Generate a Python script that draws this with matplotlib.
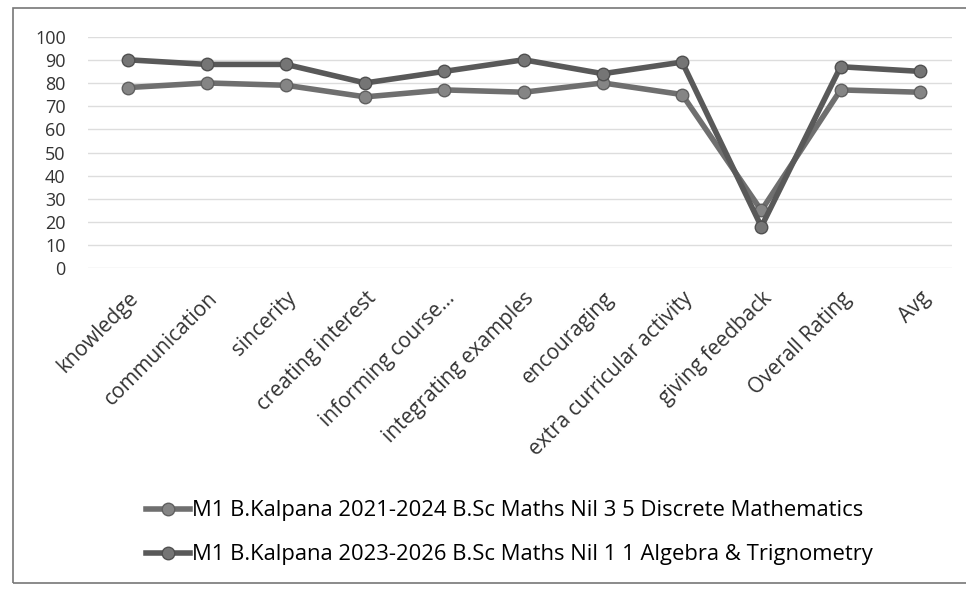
import matplotlib.pyplot as plt
from matplotlib.patches import Rectangle

categories = ["knowledge", "communication", "sincerity", "creating interest",
              "informing course...", "integrating examples", "encouraging",
              "extra curricular activity", "giving feedback", "Overall Rating", "Avg"]
discrete_math = [78, 80, 79, 74, 77, 76, 80, 75, 25, 77, 76]
algebra_trig = [90, 88, 88, 80, 85, 90, 84, 89, 18, 87, 85]
series_labels = ["M1 B.Kalpana 2021-2024 B.Sc Maths Nil 3 5 Discrete Mathematics",
                 "M1 B.Kalpana 2023-2026 B.Sc Maths Nil 1 1 Algebra & Trignometry"]

plt.rcParams["font.family"] = ["Open Sans", "DejaVu Sans"]

fig = plt.figure(figsize=(9.66, 5.9), dpi=100)
ax = fig.add_axes([0.091, 0.545, 0.894, 0.393])

x = range(len(categories))
ax.plot(x, discrete_math, color="#6f6f6f", lw=4, marker="o", ms=9,
        mfc="#858585", mec="#606060", label=series_labels[0])
ax.plot(x, algebra_trig, color="#595959", lw=4, marker="o", ms=9,
        mfc="#757575", mec="#505050", label=series_labels[1])

ax.set_xlim(-0.5, len(categories) - 0.6)
ax.set_ylim(0, 100)
ax.set_yticks(range(0, 101, 10))
ax.set_xticks(list(x))
ax.set_xticklabels(categories, rotation=45, ha="right", rotation_mode="anchor",
                   fontsize=15, color="#333333")
ax.tick_params(axis="y", labelsize=13, colors="#333333", length=0, pad=16)
ax.tick_params(axis="x", length=0, pad=14)
ax.grid(axis="y", color="#dddddd", lw=1)
for s in ax.spines.values():
    s.set_visible(False)

fig.legend(loc="center", bbox_to_anchor=(0.527, 0.097), ncol=1, frameon=False,
           fontsize=15.8, handlelength=2.0, labelspacing=1.05, handletextpad=0.1)

fig.patches.append(Rectangle((0.013, 0.012), 1.0, 0.975, transform=fig.transFigure,
                             fill=False, ec="#777777", lw=1.2))

fig.savefig("out.png", dpi=100)
